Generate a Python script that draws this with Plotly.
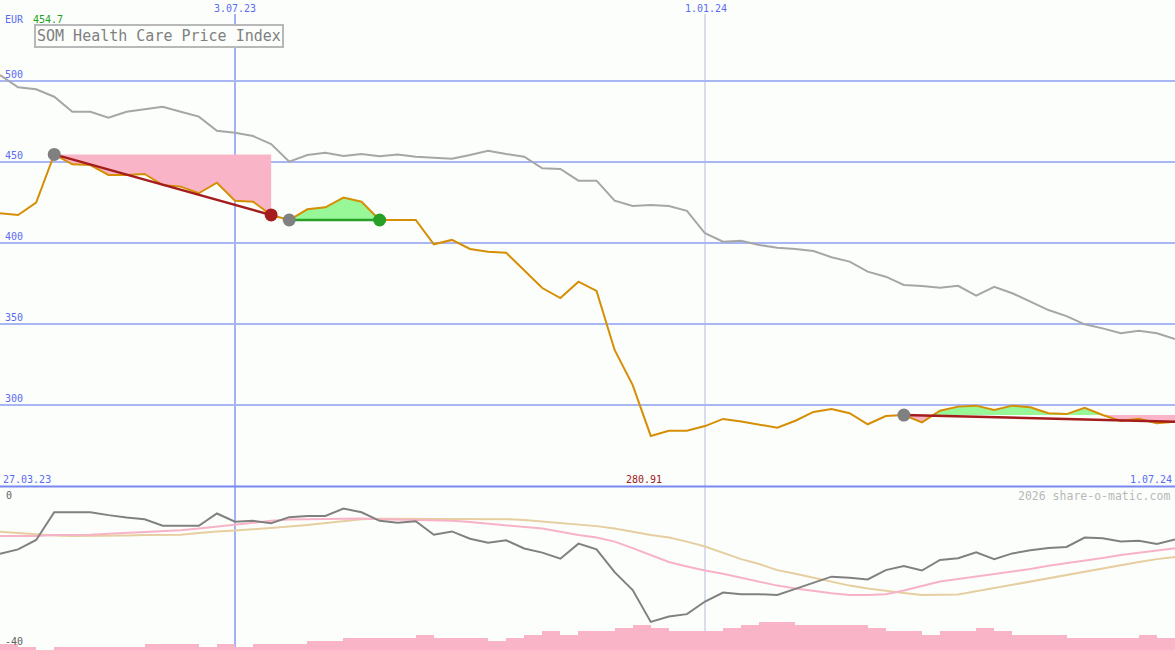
import numpy as np
import pandas as pd
import plotly.graph_objects as go

# ---------------- data ----------------
dates = pd.date_range("2023-04-03", periods=66, freq="7D")

index_price = [418.3, 417.3, 424.9, 454.7, 448.6, 448.1, 442.0, 442.0, 442.6, 435.8,
               434.8, 430.7, 437.2, 426.1, 425.5, 417.3, 414.2, 420.8, 422.0, 428.0,
               425.5, 414.2, 414.2, 414.2, 399.2, 401.9, 396.3, 394.6, 394.0, 383.3,
               372.2, 366.0, 376.1, 370.4, 334.0, 312.3, 280.91, 284.1, 284.1, 287.0,
               291.4, 289.8, 287.7, 286.0, 290.3, 295.7, 297.5, 294.9, 288.1, 293.2,
               293.8, 289.3, 296.5, 299.0, 299.6, 296.9, 299.6, 298.6, 294.9, 294.4,
               298.3, 293.8, 290.1, 291.5, 288.7, 289.7]

benchmark = [503.7, 496.1, 494.9, 490.3, 481.0, 481.0, 477.3, 481.0, 482.5, 484.1,
             481.0, 478.0, 469.3, 468.1, 466.0, 461.1, 450.2, 454.3, 455.7, 453.7,
             454.9, 453.5, 454.6, 453.3, 452.7, 452.0, 454.3, 457.0, 454.9, 453.3,
             446.1, 445.7, 438.5, 438.5, 426.1, 422.8, 423.5, 422.8, 419.9, 406.0,
             400.8, 401.4, 398.8, 397.0, 396.3, 395.1, 391.2, 388.5, 382.3, 379.2,
             374.1, 373.5, 372.4, 373.6, 367.5, 373.0, 369.0, 363.8, 358.6, 354.9,
             349.8, 347.3, 344.3, 345.9, 344.3, 340.7]

osc_main = [-16.4, -15.3, -13.0, -6.2, -6.2, -6.2, -6.9, -7.5, -7.9, -9.5,
            -9.5, -9.5, -6.5, -8.5, -8.3, -8.9, -7.4, -7.1, -7.1, -5.3,
            -6.2, -8.3, -8.8, -8.4, -11.7, -10.9, -12.7, -13.7, -13.1, -15.1,
            -16.1, -17.6, -13.9, -15.3, -20.9, -25.3, -33.1, -31.8, -31.2, -28.1,
            -25.9, -26.3, -26.3, -26.5, -25.0, -23.5, -22.0, -22.3, -22.7, -20.4,
            -19.4, -20.5, -17.9, -17.5, -16.0, -17.7, -16.3, -15.5, -15.0, -14.7,
            -12.4, -12.6, -13.4, -13.2, -14.0, -12.9]

osc_fast = [-12.0, -12.0, -12.0, -11.8, -11.8, -11.7, -11.5, -11.3, -11.0, -10.8,
            -10.6, -10.2, -9.7, -9.3, -8.7, -8.3, -8.0, -7.9, -7.9, -7.8,
            -7.7, -7.9, -8.0, -8.1, -8.2, -8.3, -8.6, -9.0, -9.3, -9.7,
            -10.2, -11.0, -11.8, -12.4, -13.4, -15.0, -16.7, -18.4, -19.5, -20.5,
            -21.3, -22.3, -23.3, -24.2, -24.9, -25.5, -26.1, -26.5, -26.5, -26.3,
            -25.4, -24.3, -23.2, -22.6, -22.0, -21.3, -20.7, -20.1, -19.3, -18.7,
            -18.0, -17.4, -16.7, -16.2, -15.6, -15.0]

osc_slow = [-11.0, -11.3, -11.7, -11.9, -12.0, -12.0, -12.0, -11.9, -11.8, -11.8,
            -11.7, -11.3, -10.9, -10.7, -10.4, -10.1, -9.7, -9.3, -8.8, -8.3,
            -7.9, -7.8, -7.8, -7.8, -7.9, -7.9, -7.9, -7.8, -7.9, -8.1,
            -8.5, -8.8, -9.2, -9.6, -10.2, -11.0, -11.8, -12.4, -13.4, -14.6,
            -16.2, -17.7, -18.9, -20.4, -21.3, -22.3, -23.3, -24.2, -24.9, -25.5,
            -26.0, -26.5, -26.5, -26.4, -25.6, -24.8, -23.9, -23.2, -22.3, -21.6,
            -20.7, -19.9, -19.1, -18.4, -17.7, -17.2]

volume = [2, 1, 0, 1, 1, 1, 1, 1, 2, 2, 2, 1, 2, 1, 2, 2, 2, 3, 3, 4,
          4, 4, 4, 5, 4, 4, 4, 3, 4, 5, 6, 5, 6, 6, 7, 8, 7, 6, 6, 6,
          7, 8, 9, 9, 8, 8, 8, 8, 7, 6, 6, 5, 6, 6, 7, 6, 5, 5, 5, 4,
          4, 4, 4, 5, 4]

# trend segments: (start index, end index, trend colour, end marker colour)
segments = [(3, 15, "#a41c1c", "#a41c1c"),
            (16, 21, "#28a028", "#28a028"),
            (50, 65, "#a41c1c", None)]

y_ticks = [300, 350, 400, 450, 500]
tick_labels = ["300", "350", "400", "450", "500"]

# ---------------- layout helpers ----------------
W, H = 1175, 650
BG = "#fcfefc"
BLUE_TXT = "#5a6cf2"
MONO = "DejaVu Sans Mono"


def kdate(k):
    return dates[0] + pd.Timedelta(days=7 * k)


def band(a, b, level):
    xs, up, lo = [], [], []
    for k in range(a, b + 1):
        v = index_price[k]
        if k > a:
            pv = index_price[k - 1]
            if (pv - level) * (v - level) < 0:
                t = (level - pv) / (v - pv)
                xs.append(k - 1 + t)
                up.append(level)
                lo.append(level)
        xs.append(k)
        up.append(max(v, level))
        lo.append(min(v, level))
    return [kdate(k) for k in xs], up, lo


fig = go.Figure()

# volume bars (bottom panel, behind lines)
fig.add_trace(go.Bar(
    x=[kdate(k + 0.5) for k in range(len(volume))], y=volume,
    width=7 * 86400000, marker=dict(color="#fab4c8", line=dict(width=0)),
    xaxis="x", yaxis="y2", hoverinfo="skip"))

# fills for segments
for a, b, _, _ in segments:
    level = index_price[a]
    xd, up, lo = band(a, b, level)
    fig.add_trace(go.Scatter(x=xd, y=[level] * len(xd), mode="lines",
                             line=dict(width=0, color="rgba(0,0,0,0)"),
                             xaxis="x", yaxis="y", hoverinfo="skip"))
    fig.add_trace(go.Scatter(x=xd, y=up, mode="lines", fill="tonexty",
                             fillcolor="#98f898", line=dict(width=0, color="rgba(0,0,0,0)"),
                             xaxis="x", yaxis="y", hoverinfo="skip"))
    fig.add_trace(go.Scatter(x=xd, y=[level] * len(xd), mode="lines",
                             line=dict(width=0, color="rgba(0,0,0,0)"),
                             xaxis="x", yaxis="y", hoverinfo="skip"))
    fig.add_trace(go.Scatter(x=xd, y=lo, mode="lines", fill="tonexty",
                             fillcolor="#fab4c8", line=dict(width=0, color="rgba(0,0,0,0)"),
                             xaxis="x", yaxis="y", hoverinfo="skip"))

# benchmark and price lines
fig.add_trace(go.Scatter(x=dates, y=benchmark, mode="lines",
                         line=dict(color="#a6a6a6", width=2), xaxis="x", yaxis="y"))
fig.add_trace(go.Scatter(x=dates, y=index_price, mode="lines",
                         line=dict(color="#d68e04", width=2), xaxis="x", yaxis="y"))

# trend lines and markers
for a, b, col, endcol in segments:
    fig.add_trace(go.Scatter(x=[dates[a], dates[b]], y=[index_price[a], index_price[b]],
                             mode="lines", line=dict(color=col, width=2.5),
                             xaxis="x", yaxis="y"))
    fig.add_trace(go.Scatter(x=[dates[a]], y=[index_price[a]], mode="markers",
                             marker=dict(color="#808080", size=13),
                             xaxis="x", yaxis="y"))
    if endcol:
        fig.add_trace(go.Scatter(x=[dates[b]], y=[index_price[b]], mode="markers",
                                 marker=dict(color=endcol, size=13),
                                 xaxis="x", yaxis="y"))

# oscillator lines (bottom panel)
fig.add_trace(go.Scatter(x=dates, y=osc_slow, mode="lines",
                         line=dict(color="#e6cea0", width=2), xaxis="x", yaxis="y3"))
fig.add_trace(go.Scatter(x=dates, y=osc_fast, mode="lines",
                         line=dict(color="#f8b2c8", width=2), xaxis="x", yaxis="y3"))
fig.add_trace(go.Scatter(x=dates, y=osc_main, mode="lines",
                         line=dict(color="#808080", width=2), xaxis="x", yaxis="y3"))

top_dom = [1 - 486 / H, 1]
bot_dom = [0, 1 - 487 / H]

shapes = [
    dict(type="line", xref="x", yref="paper", x0=pd.Timestamp("2023-07-03"),
         x1=pd.Timestamp("2023-07-03"), y0=0, y1=1 - 14 / H,
         line=dict(color="#a4b2f4", width=2), layer="below"),
    dict(type="line", xref="x", yref="paper", x0=pd.Timestamp("2024-01-01"),
         x1=pd.Timestamp("2024-01-01"), y0=0, y1=1 - 14 / H,
         line=dict(color="#b4bcdc", width=1), layer="below"),
    dict(type="line", xref="paper", yref="paper", x0=0, x1=1,
         y0=1 - 486.5 / H, y1=1 - 486.5 / H,
         line=dict(color="#7888f2", width=2), layer="below"),
]


def ann(text, x, y, color, size=10, xanchor="left", **kw):
    d = dict(text=text, x=x / W, y=1 - y / H, xref="paper", yref="paper",
             showarrow=False, xanchor=xanchor, yanchor="middle",
             font=dict(family=MONO, size=size, color=color))
    d.update(kw)
    return d


annotations = [
    ann("EUR", 3, 19, BLUE_TXT),
    ann("454.7", 31, 19, "#22a022"),
    ann("3.07.23", 235, 9, BLUE_TXT, xanchor="center"),
    ann("1.01.24", 706, 9, BLUE_TXT, xanchor="center"),
    ann("SOM Health Care Price Index", 159, 36.5, "#808080", size=15, xanchor="center",
        bordercolor="#b8b8b8", borderwidth=2, borderpad=1, bgcolor=BG),
    ann("27.03.23", 1, 479, BLUE_TXT),
    ann("280.91", 644, 479, "#a01818", xanchor="center"),
    ann("1.07.24", 1174, 479, BLUE_TXT, xanchor="right"),
    ann("0", 4, 495, "#606060"),
    ann("2026 share-o-matic.com", 1172, 496, "#b8b8b8", size=11.5, xanchor="right"),
    ann("-40", 3, 641, "#606060"),
]
for v, t in zip(y_ticks, tick_labels):
    annotations.append(dict(text=t, x=3 / W, y=v, xref="paper", yref="y",
                            showarrow=False, xanchor="left", yanchor="middle", yshift=7,
                            font=dict(family=MONO, size=10, color=BLUE_TXT)))

fig.update_layout(
    width=W, height=H, margin=dict(l=0, r=0, t=0, b=0),
    paper_bgcolor=BG, plot_bgcolor=BG, showlegend=False,
    bargap=0,
    xaxis=dict(range=[dates[0], dates[-1]], domain=[0, 1], showgrid=False,
               zeroline=False, showticklabels=False, ticks="", anchor="y"),
    yaxis=dict(domain=top_dom, range=[250, 550], tickvals=y_ticks,
               showticklabels=False, gridcolor="#a8b6f4", gridwidth=2,
               zeroline=False, ticks="", anchor="x"),
    yaxis2=dict(domain=bot_dom, range=[0, 52.6], showgrid=False,
                zeroline=False, showticklabels=False, ticks="", anchor="x"),
    yaxis3=dict(overlaying="y2", range=[-40, 0], showgrid=False,
                zeroline=False, showticklabels=False, ticks="", anchor="x"),
    shapes=shapes, annotations=annotations,
)

fig.write_html("out.html", config={"displayModeBar": False},
               post_script="document.body.style.margin='0px';document.body.style.padding='0px';document.body.style.background='" + BG + "';")
